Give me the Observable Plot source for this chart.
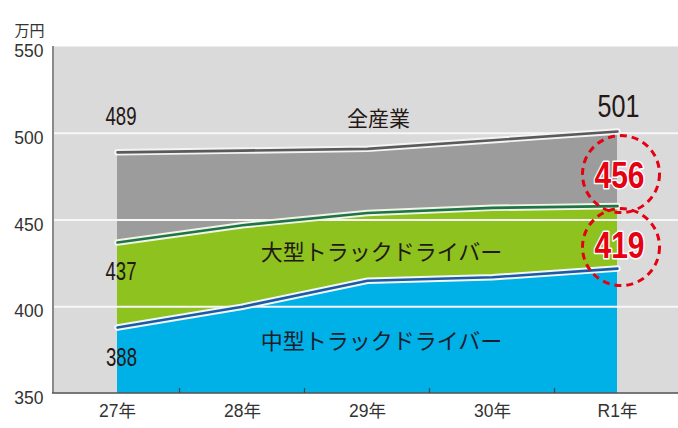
<!DOCTYPE html>
<html>
<head>
<meta charset="utf-8">
<script src="https://cdn.jsdelivr.net/npm/d3@7"></script>
<script src="https://cdn.jsdelivr.net/npm/@observablehq/plot@0.6"></script>
<style>
html, body { margin: 0; padding: 0; background: #ffffff; }
#chart svg { display: block; }
</style>
</head>
<body>
<div id="chart"></div>
<script>
// ---- data ----
const years = ["27年", "28年", "29年", "30年", "R1年"];
const allIndustry = [489, 490, 491, 496, 501];
const largeTruck = [437, 447, 454, 457, 458];
const mediumTruck = [388, 400, 415, 417, 422];
const yTicks = [350, 400, 450, 500, 550];
const gridValues = [400, 450, 500];
const startLabels = ["489", "437", "388"];
const endLabels = ["501", "456", "419"];
const seriesNames = ["全産業", "大型トラックドライバー", "中型トラックドライバー"];
const unitLabel = "万円";

// ---- table built from arrays ----
const yMin = d3.min(yTicks), yMax = d3.max(yTicks);
const rows = years.map((year, i) => ({
  year, all: allIndustry[i], large: largeTruck[i], medium: mediumTruck[i], base: yMin
}));
const first = [rows[0]];
const last = [rows[rows.length - 1]];
const mid = [rows[2]];

const BG = "#dadada", GRAY = "#9c9c9c", GREEN = "#8dc21f", BLUE = "#00b1e7";
const RED = "#e50012", INK = "#231815";
const NUM = "'Liberation Sans Narrow', 'Liberation Sans', Arial, sans-serif";
const JP = "'Noto Sans CJK JP', 'Noto Sans CJK SC', sans-serif";

// axis decoration: left line, bottom line, ticks between categories
function axisDecor(index, scales, values, dimensions) {
  const {x, y} = scales;
  const {width, marginLeft, marginRight} = dimensions;
  const g = d3.create("svg:g");
  const y0 = y(yMin), y1 = y(yMax);
  g.append("line").attr("x1", marginLeft).attr("x2", marginLeft)
    .attr("y1", y1).attr("y2", y0).attr("stroke", "#8a8a8a").attr("stroke-width", 2);
  g.append("line").attr("x1", marginLeft - 1).attr("x2", width - marginRight)
    .attr("y1", y0).attr("y2", y0).attr("stroke", "#555").attr("stroke-width", 1.6);
  for (let i = 1; i < years.length; i++) {
    const xm = (x(years[i - 1]) + x(years[i])) / 2;
    g.append("line").attr("x1", xm).attr("x2", xm)
      .attr("y1", y0).attr("y2", y0 - 5).attr("stroke", "#444").attr("stroke-width", 1.2);
  }
  return g.node();
}

const chart = Plot.plot({
  width: 678,
  height: 428,
  marginTop: 46,
  marginBottom: 35,
  marginLeft: 53,
  marginRight: 0,
  style: {fontFamily: NUM, fontSize: "17.5px", color: INK, background: "#ffffff"},
  x: {type: "point", domain: years, range: [116, 618], padding: 0, axis: null},
  y: {domain: [yMin, yMax], axis: null},
  marks: [
    Plot.frame({fill: BG, stroke: "none"}),
    Plot.areaY(rows, {x: "year", y1: "base", y2: "medium", fill: BLUE}),
    Plot.areaY(rows, {x: "year", y1: "medium", y2: "large", fill: GREEN}),
    Plot.areaY(rows, {x: "year", y1: "large", y2: "all", fill: GRAY}),
    Plot.ruleY(gridValues, {stroke: "#f7f7f7", strokeWidth: 1.8}),
    // line casings and lines
    Plot.lineY(rows, {x: "year", y: "all", stroke: "#f4f4f4", strokeWidth: 6.5}),
    Plot.lineY(rows, {x: "year", y: "all", stroke: "#5a5a5a", strokeWidth: 2.6}),
    Plot.lineY(rows, {x: "year", y: "large", stroke: "#f0f6e6", strokeWidth: 6.5}),
    Plot.lineY(rows, {x: "year", y: "large", stroke: "#1f7347", strokeWidth: 2.6}),
    Plot.lineY(rows, {x: "year", y: "medium", stroke: "#f0f8fb", strokeWidth: 6.5}),
    Plot.lineY(rows, {x: "year", y: "medium", stroke: "#1e5aa3", strokeWidth: 2.6}),
    axisDecor,
    // axis labels
    Plot.text(yTicks, {y: d => d, text: d => String(d), frameAnchor: "left", dx: -10, dy: 5,
      textAnchor: "end", fill: "#333", fontSize: 17.5, fontFamily: "'Liberation Sans', Arial, sans-serif"}),
    Plot.text(years, {x: d => d, text: d => d, frameAnchor: "bottom", dy: 23,
      fill: "#333", fontSize: 17.5, fontFamily: "'Liberation Sans', 'Noto Sans CJK JP', sans-serif"}),
    Plot.text([unitLabel], {text: d => d, frameAnchor: "top-left", textAnchor: "start", dx: -39, dy: -21,
      fill: "#333", fontSize: 15, fontFamily: JP}),
    // start value labels
    Plot.text(first, {x: "year", y: "all", text: () => startLabels[0], dx: 3.5, dy: -35,
      fill: INK, fontSize: 25, fontFamily: NUM}),
    Plot.text(first, {x: "year", y: "large", text: () => startLabels[1], dx: 3.5, dy: 29,
      fill: INK, fontSize: 25, fontFamily: NUM}),
    Plot.text(first, {x: "year", y: "medium", text: () => startLabels[2], dx: 4, dy: 30.5,
      fill: INK, fontSize: 25, fontFamily: NUM}),
    // end label 501
    Plot.text(last, {x: "year", y: "all", text: () => endLabels[0], dx: 1, dy: -24.5,
      fill: INK, fontSize: 31, fontFamily: NUM}),
    // series names
    Plot.text(mid, {x: "year", y: "all", text: () => seriesNames[0], dx: 11, dy: -29.5,
      fill: INK, fontSize: 21, fontFamily: JP}),
    Plot.text(mid, {x: "year", y: "large", text: () => seriesNames[1], dx: 14, dy: 39.5,
      fill: INK, fontSize: 22, fontFamily: JP}),
    Plot.text(mid, {x: "year", y: "medium", text: () => seriesNames[2], dx: 14, dy: 61.5,
      fill: "#1a1f2e", fontSize: 22, fontFamily: JP}),
    // dashed circles and red labels
    Plot.dot(last, {x: "year", y: "large", dx: 3.5, dy: -32, r: 38.5, fill: "none",
      stroke: RED, strokeWidth: 3, strokeDasharray: "7,5"}),
    Plot.dot(last, {x: "year", y: "medium", dx: 3.5, dy: -21.5, r: 38.5, fill: "none",
      stroke: RED, strokeWidth: 3, strokeDasharray: "7,5"}),
    Plot.text(last, {x: "year", y: "large", text: () => endLabels[1], dx: 2, dy: -29.5,
      fill: RED, stroke: "#ffffff", strokeWidth: 3, paintOrder: "stroke",
      fontSize: 37, fontWeight: "bold", fontFamily: NUM}),
    Plot.text(last, {x: "year", y: "medium", text: () => endLabels[2], dx: 2, dy: -22,
      fill: RED, stroke: "#ffffff", strokeWidth: 3, paintOrder: "stroke",
      fontSize: 37, fontWeight: "bold", fontFamily: NUM})
  ]
});

// condense the numeric labels to match the narrow typeface of the original
const widths = new Map([
  [startLabels[0], 31], [startLabels[1], 31], [startLabels[2], 31],
  [endLabels[0], 42], [endLabels[1], 50], [endLabels[2], 50]
]);
d3.select(chart).selectAll("text").each(function () {
  const t = this.textContent;
  if (widths.has(t)) {
    this.setAttribute("textLength", widths.get(t));
    this.setAttribute("lengthAdjust", "spacingAndGlyphs");
  }
});

document.getElementById("chart").appendChild(chart);
</script>
</body>
</html>
